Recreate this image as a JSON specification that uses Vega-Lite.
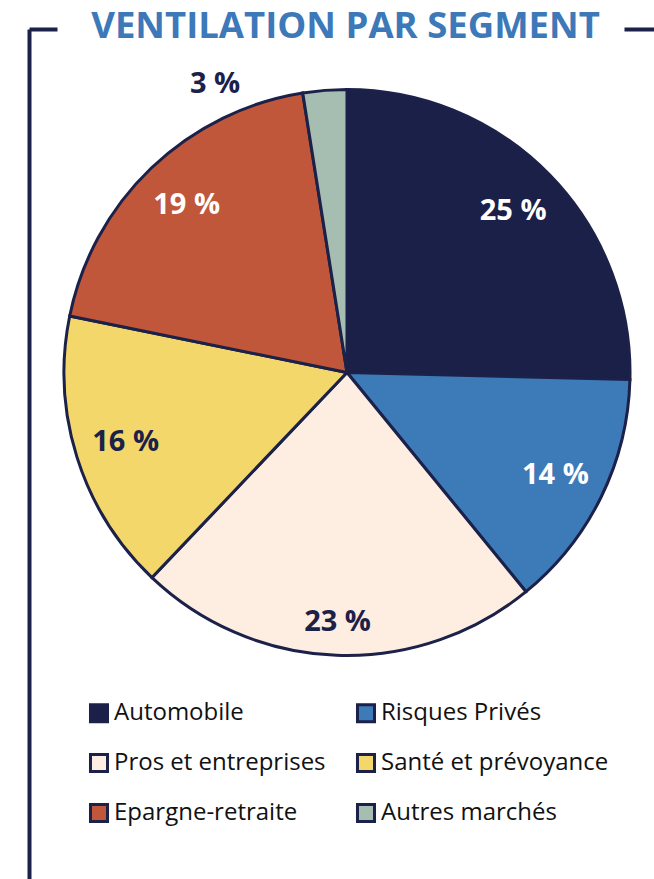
{
  "$schema": "https://vega.github.io/schema/vega-lite/v6.json",
  "width": 625,
  "height": 850,
  "autosize": {"type": "none"},
  "padding": {"left": 29, "top": 29, "right": 0, "bottom": 0},
  "background": "white",
  "title": {
    "text": "VENTILATION PAR SEGMENT",
    "font": "Open Sans",
    "fontSize": 36.5,
    "fontWeight": "bold",
    "color": "#3d78b8",
    "anchor": "middle",
    "dx": 4,
    "offset": -45,
    "baseline": "alphabetic"
  },
  "config": {"view": {"stroke": null}},
  "data": {
    "values": [
      {"segment": "Automobile", "value": 25.4, "label": "25 %", "order": 1},
      {"segment": "Risques Privés", "value": 13.7, "label": "14 %", "order": 2},
      {"segment": "Pros et entreprises", "value": 23.0, "label": "23 %", "order": 3},
      {"segment": "Santé et prévoyance", "value": 16.1, "label": "16 %", "order": 4},
      {"segment": "Epargne-retraite", "value": 19.3, "label": "19 %", "order": 5},
      {"segment": "Autres marchés", "value": 2.5, "label": "3 %", "order": 6}
    ]
  },
  "layer": [
    {
      "mark": {"type": "point", "opacity": 0},
      "encoding": {
        "x": {
          "field": "value",
          "type": "quantitative",
          "axis": {
            "orient": "top",
            "domain": true,
            "domainColor": "#1b2149",
            "domainWidth": 4,
            "domainDash": [28, 567, 30, 30],
            "ticks": false,
            "labels": false,
            "grid": false,
            "title": null
          }
        },
        "y": {
          "field": "value",
          "type": "quantitative",
          "axis": {
            "orient": "left",
            "domain": true,
            "domainColor": "#1b2149",
            "domainWidth": 4,
            "ticks": false,
            "labels": false,
            "grid": false,
            "title": null
          }
        }
      }
    },
    {
      "mark": {
        "type": "arc",
        "x": 318,
        "y": 343.5,
        "outerRadius": 283,
        "stroke": "#1b2149",
        "strokeWidth": 3
      },
      "encoding": {
        "theta": {"field": "value", "type": "quantitative", "stack": true},
        "order": {"field": "order", "type": "quantitative"},
        "fill": {
          "field": "segment",
          "type": "nominal",
          "scale": {
            "domain": ["Automobile", "Risques Privés", "Pros et entreprises", "Santé et prévoyance", "Epargne-retraite", "Autres marchés"],
            "range": ["#1b2048", "#3d7ab8", "#fdeee1", "#f4d76b", "#c0573a", "#a6bdb1"]
          },
          "legend": {
            "orient": "none",
            "direction": "horizontal",
            "legendX": 58,
            "legendY": 672,
            "title": null,
            "columns": 2,
            "symbolType": "square",
            "symbolSize": 290,
            "symbolStrokeColor": "#1b2149",
            "symbolStrokeWidth": 3,
            "symbolOpacity": 1,
            "labelFont": "Open Sans",
            "labelFontSize": 24,
            "labelColor": "#111111",
            "labelOffset": 3,
            "labelLimit": 400,
            "rowPadding": 20,
            "columnPadding": 25
          }
        }
      }
    },
    {
      "mark": {
        "type": "text",
        "x": 318,
        "y": 343.5,
        "radius": 232,
        "font": "Open Sans",
        "fontSize": 29,
        "fontWeight": "bold"
      },
      "encoding": {
        "theta": {"field": "value", "type": "quantitative", "stack": true},
        "order": {"field": "order", "type": "quantitative"},
        "text": {"field": "label"},
        "color": {
          "condition": {"test": "datum.segment === 'Santé et prévoyance'", "value": "#1b2149"},
          "value": "white"
        },
        "opacity": {
          "condition": {"test": "datum.segment === 'Pros et entreprises' || datum.segment === 'Autres marchés'", "value": 0},
          "value": 1
        }
      }
    },
    {
      "mark": {
        "type": "text",
        "x": 318,
        "y": 343.5,
        "radius": 250,
        "font": "Open Sans",
        "fontSize": 29,
        "fontWeight": "bold",
        "color": "#1b2149"
      },
      "encoding": {
        "theta": {"field": "value", "type": "quantitative", "stack": true},
        "order": {"field": "order", "type": "quantitative"},
        "text": {"field": "label"},
        "opacity": {
          "condition": {"test": "datum.segment === 'Pros et entreprises'", "value": 1},
          "value": 0
        }
      }
    },
    {
      "mark": {
        "type": "text",
        "x": 318,
        "y": 343.5,
        "radius": 292,
        "dx": -109,
        "dy": 3,
        "font": "Open Sans",
        "fontSize": 29,
        "fontWeight": "bold",
        "color": "#1b2149"
      },
      "encoding": {
        "theta": {"field": "value", "type": "quantitative", "stack": true},
        "order": {"field": "order", "type": "quantitative"},
        "text": {"field": "label"},
        "opacity": {
          "condition": {"test": "datum.segment === 'Autres marchés'", "value": 1},
          "value": 0
        }
      }
    }
  ]
}
